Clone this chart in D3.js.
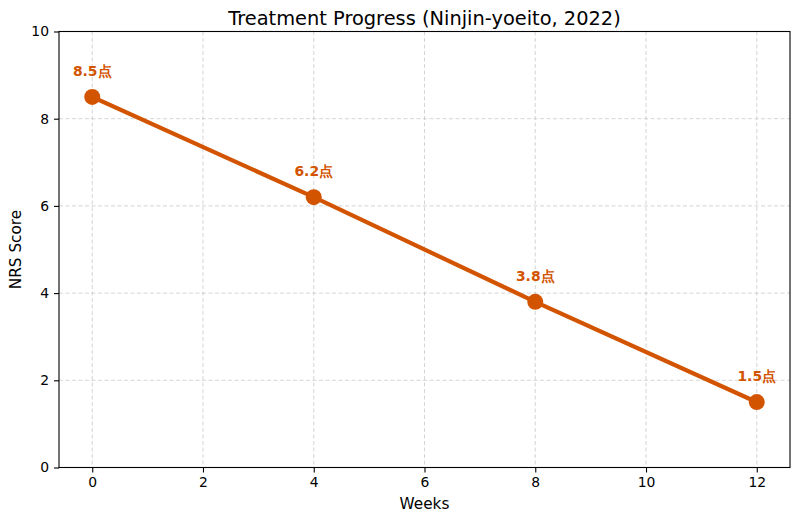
<!DOCTYPE html>
<html>
<head>
<meta charset="utf-8">
<script src="https://cdn.jsdelivr.net/npm/d3@7"></script>
<style>
  body { margin: 0; background: #fff; }
  svg { display: block; font-family: "DejaVu Sans", sans-serif; }
</style>
</head>
<body>
<svg id="chart" width="800" height="522"></svg>
<script>
const weeks = [0, 4, 8, 12];
const scores = [8.5, 6.2, 3.8, 1.5];
const xTicks = [0, 2, 4, 6, 8, 10, 12];
const yTicks = [0, 2, 4, 6, 8, 10];
const unit = "点";

const width = 800, height = 522;
const margin = { top: 31.5, right: 10, bottom: 54.5, left: 59 };
const innerWidth = width - margin.left - margin.right,
  innerHeight = height - margin.top - margin.bottom;
const color = "#d35400";

const x = d3.scaleLinear().domain([-0.6, 12.6]).range([0, innerWidth]);
const y = d3.scaleLinear().domain([0, 10]).range([innerHeight, 0]);

const svg = d3.select("#chart");
const g = svg.append("g").attr("transform", `translate(${margin.left}, ${margin.top})`);

// grid
g.append("g")
  .selectAll("line")
  .data(xTicks)
  .join("line")
  .attr("x1", (d) => x(d)).attr("x2", (d) => x(d))
  .attr("y1", 0).attr("y2", innerHeight)
  .attr("stroke", "#b0b0b0").attr("stroke-opacity", 0.6)
  .attr("stroke-width", 0.9).attr("stroke-dasharray", "4,2.5");
g.append("g")
  .selectAll("line")
  .data(yTicks)
  .join("line")
  .attr("y1", (d) => y(d)).attr("y2", (d) => y(d))
  .attr("x1", 0).attr("x2", innerWidth)
  .attr("stroke", "#b0b0b0").attr("stroke-opacity", 0.6)
  .attr("stroke-width", 0.9).attr("stroke-dasharray", "4,2.5");

// axes
const xAxis = g.append("g")
  .attr("transform", `translate(0, ${innerHeight})`)
  .call(d3.axisBottom(x).tickValues(xTicks).tickSize(5).tickPadding(5).tickSizeOuter(0));
const yAxis = g.append("g")
  .call(d3.axisLeft(y).tickValues(yTicks).tickSize(5).tickPadding(5).tickSizeOuter(0));
[xAxis, yAxis].forEach((a) => {
  a.attr("font-family", "DejaVu Sans, sans-serif").attr("font-size", "13.9px");
  a.selectAll("text").attr("fill", "#000");
  a.selectAll("line").attr("stroke", "#000").attr("stroke-width", 1.1);
  a.select(".domain").remove();
});

// frame
g.append("rect")
  .attr("width", innerWidth).attr("height", innerHeight)
  .attr("fill", "none").attr("stroke", "#000").attr("stroke-width", 1.1);

// line
const line = d3.line().x((d, i) => x(weeks[i])).y((d) => y(d));
g.append("path")
  .datum(scores)
  .attr("d", line)
  .attr("fill", "none")
  .attr("stroke", color)
  .attr("stroke-width", 4.2)
  .attr("stroke-linejoin", "round")
  .attr("stroke-linecap", "square");

g.append("g")
  .selectAll("circle")
  .data(scores)
  .join("circle")
  .attr("cx", (d, i) => x(weeks[i]))
  .attr("cy", (d) => y(d))
  .attr("r", 8)
  .attr("fill", color);

g.append("g")
  .selectAll("text")
  .data(scores)
  .join("text")
  .attr("x", (d, i) => x(weeks[i]))
  .attr("y", (d) => y(d) - 21)
  .attr("text-anchor", "middle")
  .attr("font-size", "13.9px")
  .attr("font-weight", "bold")
  .attr("fill", color)
  .text((d) => d.toFixed(1) + unit);

// labels
svg.append("text")
  .attr("x", margin.left + innerWidth / 2)
  .attr("y", 25)
  .attr("text-anchor", "middle")
  .attr("font-size", "19.4px")
  .text("Treatment Progress (Ninjin-yoeito, 2022)");

svg.append("text")
  .attr("x", margin.left + innerWidth / 2)
  .attr("y", 509)
  .attr("text-anchor", "middle")
  .attr("font-size", "15.3px")
  .text("Weeks");

svg.append("text")
  .attr("transform", `translate(21, ${margin.top + innerHeight / 2}) rotate(-90)`)
  .attr("text-anchor", "middle")
  .attr("font-size", "15.3px")
  .text("NRS Score");
</script>
</body>
</html>
